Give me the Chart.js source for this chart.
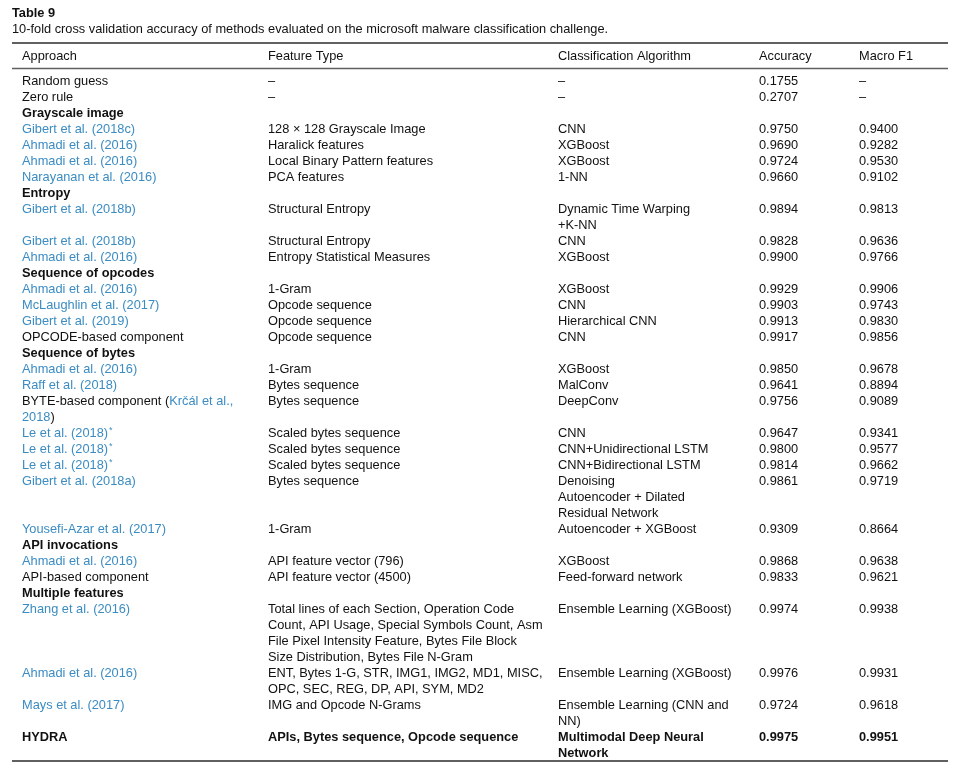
<!DOCTYPE html>
<html>
<head>
<meta charset="utf-8">
<script src="https://cdn.jsdelivr.net/npm/chart.js@4.4.1/dist/chart.umd.min.js"></script>
<style>
    html, body { margin: 0; padding: 0; background: #ffffff; }
    #wrap { width: 959px; height: 770px; }
</style>
</head>
<body>
<div id="wrap"><canvas id="table-chart"></canvas></div>
<script>
// TABLE CONTENT
// {...} = cited (blue), ^* = superscript asterisk, # = group heading, \n = line break
const tableTitle = 'Table 9';
const tableCaption = '10-fold cross validation accuracy of methods evaluated on the microsoft malware classification challenge.';

const columns = ['Approach', 'Feature Type', 'Classification Algorithm', 'Accuracy', 'Macro F1'];

const approaches = [
    'Random guess',
    'Zero rule',
    '#Grayscale image',
    '{Gibert et al. (2018c)}',
    '{Ahmadi et al. (2016)}',
    '{Ahmadi et al. (2016)}',
    '{Narayanan et al. (2016)}',
    '#Entropy',
    '{Gibert et al. (2018b)}',
    '{Gibert et al. (2018b)}',
    '{Ahmadi et al. (2016)}',
    '#Sequence of opcodes',
    '{Ahmadi et al. (2016)}',
    '{McLaughlin et al. (2017)}',
    '{Gibert et al. (2019)}',
    'OPCODE-based component',
    '#Sequence of bytes',
    '{Ahmadi et al. (2016)}',
    '{Raff et al. (2018)}',
    'BYTE-based component ({Krčál et al.,}\n{2018})',
    '{Le et al. (2018)}^*',
    '{Le et al. (2018)}^*',
    '{Le et al. (2018)}^*',
    '{Gibert et al. (2018a)}',
    '{Yousefi-Azar et al. (2017)}',
    '#API invocations',
    '{Ahmadi et al. (2016)}',
    'API-based component',
    '#Multiple features',
    '{Zhang et al. (2016)}',
    '{Ahmadi et al. (2016)}',
    '{Mays et al. (2017)}',
    'HYDRA'
];

const featureTypes = [
    '–', '–', '',
    '128 × 128 Grayscale Image', 'Haralick features', 'Local Binary Pattern features', 'PCA features', '',
    'Structural Entropy', 'Structural Entropy', 'Entropy Statistical Measures', '',
    '1-Gram', 'Opcode sequence', 'Opcode sequence', 'Opcode sequence', '',
    '1-Gram', 'Bytes sequence', 'Bytes sequence', 'Scaled bytes sequence', 'Scaled bytes sequence',
    'Scaled bytes sequence', 'Bytes sequence', '1-Gram', '',
    'API feature vector (796)', 'API feature vector (4500)', '',
    'Total lines of each Section, Operation Code\nCount, API Usage, Special Symbols Count, Asm\nFile Pixel Intensity Feature, Bytes File Block\nSize Distribution, Bytes File N-Gram',
    'ENT, Bytes 1-G, STR, IMG1, IMG2, MD1, MISC,\nOPC, SEC, REG, DP, API, SYM, MD2',
    'IMG and Opcode N-Grams',
    'APIs, Bytes sequence, Opcode sequence'
];

const algorithms = [
    '–', '–', '',
    'CNN', 'XGBoost', 'XGBoost', '1-NN', '',
    'Dynamic Time Warping\n+K-NN', 'CNN', 'XGBoost', '',
    'XGBoost', 'CNN', 'Hierarchical CNN', 'CNN', '',
    'XGBoost', 'MalConv', 'DeepConv', 'CNN', 'CNN+Unidirectional LSTM',
    'CNN+Bidirectional LSTM', 'Denoising\nAutoencoder + Dilated\nResidual Network', 'Autoencoder + XGBoost', '',
    'XGBoost', 'Feed-forward network', '',
    'Ensemble Learning (XGBoost)',
    'Ensemble Learning (XGBoost)',
    'Ensemble Learning (CNN and\nNN)',
    'Multimodal Deep Neural\nNetwork'
];

// null = dash
const accuracy = [
    0.1755, 0.2707, null,
    0.9750, 0.9690, 0.9724, 0.9660, null,
    0.9894, 0.9828, 0.9900, null,
    0.9929, 0.9903, 0.9913, 0.9917, null,
    0.9850, 0.9641, 0.9756, 0.9647, 0.9800, 0.9814, 0.9861, 0.9309, null,
    0.9868, 0.9833, null,
    0.9974, 0.9976, 0.9724, 0.9975
];

const macroF1 = [
    null, null, null,
    0.9400, 0.9282, 0.9530, 0.9102, null,
    0.9813, 0.9636, 0.9766, null,
    0.9906, 0.9743, 0.9830, 0.9856, null,
    0.9678, 0.8894, 0.9089, 0.9341, 0.9577, 0.9662, 0.9719, 0.8664, null,
    0.9638, 0.9621, null,
    0.9938, 0.9931, 0.9618, 0.9951
];

const boldRows = ['HYDRA'];

// LAYOUT
const FONT = '"Liberation Sans", Arial, sans-serif';
const FONT_SIZE = 12.8;
const TEXT_COLOR = '#111111';
const LINK_COLOR = '#3b8cc2';
const RULE_COLOR = '#606060';
const columnX = [22, 268, 558, 759, 859];

function fmt(v) {
    return v === null ? '–' : v.toFixed(4);
}

// split "{a} b^*" into segments
function parseSegments(line) {
    const segs = [];
    let re = /\{([^}]*)\}|\^\*|([^{^]+)/g;
    let m;
    while ((m = re.exec(line)) !== null) {
        if (m[1] !== undefined) segs.push({ t: m[1], link: true });
        else if (m[0] === '^*') segs.push({ t: '*', sup: true });
        else segs.push({ t: m[2] });
    }
    return segs;
}

function drawRich(ctx, line, px, py, bold) {
    let x = px;
    parseSegments(line).forEach(seg => {
        if (seg.sup) {
            ctx.font = `${FONT_SIZE * 0.7}px ${FONT}`;
            ctx.fillStyle = LINK_COLOR;
            ctx.fillText(seg.t, x + 1, py - 2);
            x += ctx.measureText(seg.t).width + 1;
            return;
        }
        ctx.font = `${bold ? 'bold ' : ''}${FONT_SIZE}px ${FONT}`;
        ctx.fillStyle = seg.link ? LINK_COLOR : TEXT_COLOR;
        ctx.fillText(seg.t, x, py);
        x += ctx.measureText(seg.t).width;
    });
}

const tablePlugin = {
    id: 'tableText',
    afterDraw(chart) {
        const ctx = chart.ctx;
        const xs = chart.scales.x;
        const ys = chart.scales.y;
        ctx.save();
        ctx.textBaseline = 'middle';
        ctx.textAlign = 'left';

        // title + caption
        ctx.fillStyle = TEXT_COLOR;
        ctx.font = `bold ${FONT_SIZE}px ${FONT}`;
        ctx.fillText(tableTitle, xs.getPixelForValue(12), ys.getPixelForValue(-4.25));
        ctx.font = `${FONT_SIZE}px ${FONT}`;
        ctx.fillText(tableCaption, xs.getPixelForValue(12), ys.getPixelForValue(-3.25));

        // rules
        const rule = (v, w) => {
            ctx.strokeStyle = RULE_COLOR;
            ctx.lineWidth = w;
            ctx.beginPath();
            ctx.moveTo(xs.getPixelForValue(12), ys.getPixelForValue(v));
            ctx.lineTo(xs.getPixelForValue(948), ys.getPixelForValue(v));
            ctx.stroke();
        };
        rule(-2.375, 2);
        rule(-0.78, 1.5);
        rule(42.5, 2);

        // header
        ctx.fillStyle = TEXT_COLOR;
        ctx.font = `${FONT_SIZE}px ${FONT}`;
        columns.forEach((c, i) => {
            ctx.fillText(c, xs.getPixelForValue(columnX[i]), ys.getPixelForValue(-1.55));
        });

        // body
        let line = 0;
        approaches.forEach((a, i) => {
            if (a.startsWith('#')) {
                drawRich(ctx, a.slice(1), xs.getPixelForValue(columnX[0]), ys.getPixelForValue(line), true);
                line += 1;
                return;
            }
            const bold = boldRows.includes(a);
            const cells = [a, featureTypes[i], algorithms[i], fmt(accuracy[i]), fmt(macroF1[i])];
            let rowLines = 1;
            cells.forEach((cell, c) => {
                const parts = cell.split('\n');
                rowLines = Math.max(rowLines, parts.length);
                parts.forEach((p, k) => {
                    drawRich(ctx, p, xs.getPixelForValue(columnX[c]), ys.getPixelForValue(line + k), bold);
                });
            });
            line += rowLines;
        });
        ctx.restore();
    }
};

document.addEventListener('DOMContentLoaded', () => {
    const ctx = document.getElementById('table-chart').getContext('2d');
    new Chart(ctx, {
        type: 'scatter',
        data: { datasets: [{ data: [], pointRadius: 0 }] },
        options: {
            responsive: true,
            maintainAspectRatio: false,
            animation: false,
            layout: { padding: 0 },
            plugins: { legend: { display: false }, tooltip: { enabled: false } },
            scales: {
                // x in page pixels, y in text lines (16px each), line 0 at 81px
                x: { type: 'linear', min: 0, max: 959, display: false },
                y: { type: 'linear', min: -5.0625, max: 43.0625, reverse: true, display: false }
            }
        },
        plugins: [tablePlugin]
    });
});
</script>
</body>
</html>
